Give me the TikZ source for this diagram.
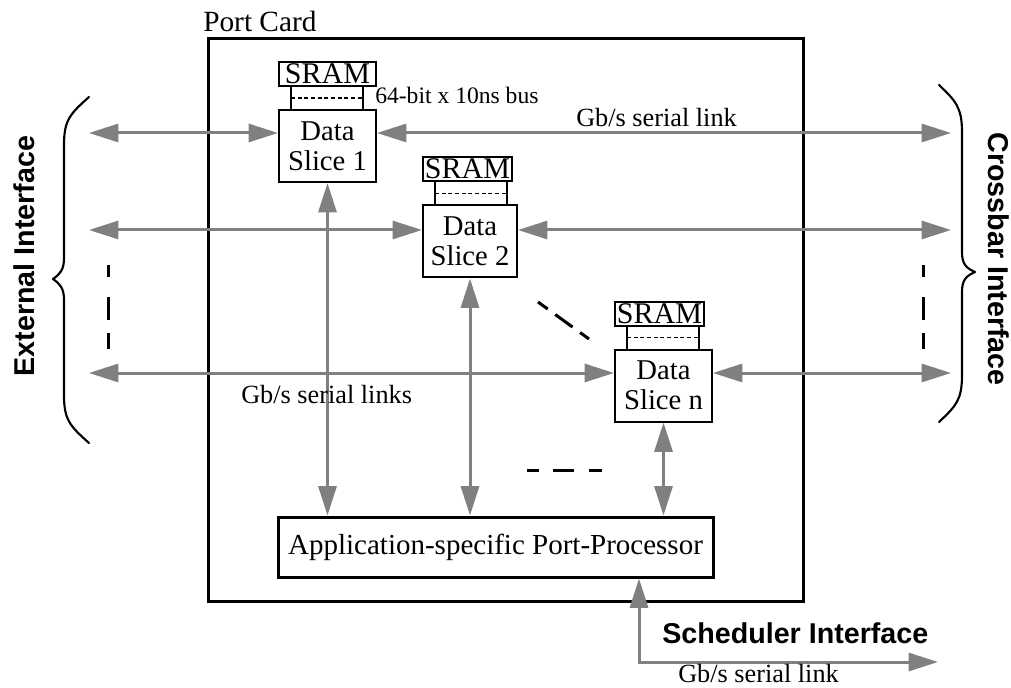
\documentclass[tikz,border=0pt]{standalone}
\usepackage{fontspec}
\setmainfont{Liberation Serif}
\newfontfamily\sansfam{Liberation Sans}
\usetikzlibrary{arrows.meta,calc}
\definecolor{agray}{RGB}{128,128,128}
\tikzset{
  tip/.tip={Triangle[length=22pt,width=13.5pt]},
  link/.style={draw=agray, line width=2.25pt, tip-tip},
  slicebox/.style={draw, line width=1.5pt, minimum width=72.75pt, minimum height=54pt, inner sep=0pt, align=center, font=\fontsize{21.5}{22.5}\selectfont},
  srambox/.style={draw, line width=1.5pt, minimum height=18pt, inner sep=0.5pt, font=\fontsize{22.5}{22}\selectfont},
  busline/.style={line width=1.5pt},
  busdash/.style={line width=0.9pt, dash pattern=on 3pt off 2pt},
  bigbox/.style={draw, line width=2.25pt, inner sep=0pt},
  lbl/.style={inner sep=0pt, anchor=base west, font=\fontsize{19.7}{21}\selectfont},
  sanslbl/.style={inner sep=0pt, anchor=base, font=\sansfam\bfseries\fontsize{21.5}{23}\selectfont},
  gapmark/.style={line width=2.25pt, dash pattern=on 9pt off 15pt on 17pt off 10pt on 12pt off 100pt},
  brace/.style={line width=1.6pt, line cap=round, line join=round}
}
\begin{document}
\begin{tikzpicture}[x=0.75pt,y=-0.75pt]
\useasboundingbox (0,0) rectangle (1011,688);

% port card
\node[bigbox, minimum width=446.25pt, minimum height=421.5pt] (card) at (505.5,320) {};
\node[lbl, font=\fontsize{22}{23}\selectfont] (cardlbl) at (203,32) {Port Card};

% data slices
\node[slicebox] (s1) at (327.5,146) {Data\\Slice 1};
\node[slicebox, minimum width=70.5pt] (s2) at (470,241.5) {Data\\Slice 2};
\node[slicebox] (sn) at (663.5,385.5) {Data\\Slice n};

\node[srambox, minimum width=72.75pt] (m1) at (327.5,74) {SRAM};
\node[srambox, minimum width=66.75pt] (m2) at (467.5,169) {SRAM};
\node[srambox, minimum width=66.75pt] (mn) at (659.5,314) {SRAM};

\foreach \m/\s in {m1/s1,m2/s2,mn/sn}{
  \draw[busline] ($(\m.south west)+(13,0)$) -- ($(\s.north west)+(13,0)$);
  \draw[busline] ($(\m.south west)+(85,0)$) -- ($(\s.north west)+(85,0)$);
  \draw[busdash] ($(\m.south west)!0.5!(\s.north west)+(13,0)$) -- ($(\m.south west)!0.5!(\s.north west)+(85,0)$);
}
\node[lbl, font=\fontsize{17.7}{19}\selectfont] (buslbl) at (375,104) {64-bit x 10ns bus};

% application processor
\node[bigbox, minimum width=326.25pt, minimum height=45pt, font=\fontsize{21.75}{23}\selectfont] (app) at (495.5,547) {Application-specific Port-Processor};

% horizontal links
\coordinate (L1) at (89,133); \coordinate (R1) at (951,133);
\coordinate (L2) at (89,230); \coordinate (R2) at (951,230);
\coordinate (L3) at (89,373); \coordinate (R3) at (951,373);
\draw[link] (L1) -- (L1 -| s1.west);
\draw[link] (s1.east |- R1) -- (R1);
\draw[link] (L2) -- (L2 -| s2.west);
\draw[link] (s2.east |- R2) -- (R2);
\draw[link] (L3) -- (L3 -| sn.west);
\draw[link] (sn.east |- R3) -- (R3);

% vertical links
\draw[link] (s1.south) -- (s1.south |- app.north);
\draw[link] (s2.south) -- (s2.south |- app.north);
\draw[link] (sn.south) -- (sn.south |- app.north);

% scheduler link
\coordinate (sc) at (639,662);
\coordinate (se) at (938,662);
\draw[link] (sc |- app.south) -- (sc) -- (se);

% labels
\node[lbl] (toplbl) at (576,127) {Gb/s serial link};
\node[lbl] (midlbl) at (241,403) {Gb/s serial links};
\node[lbl] (botlbl) at (678,682) {Gb/s serial link};
\node[sanslbl, anchor=base west] (schlbl) at (662,643) {Scheduler Interface};
\node[sanslbl, rotate=90] (extlbl) at (35,256) {External Interface};
\node[sanslbl, rotate=-90] (xbarlbl) at (988,259) {Crossbar Interface};

% ellipsis marks
\draw[gapmark] (108,265) -- (108,351);
\draw[gapmark] (923,265) -- (923,351);
\draw[line width=2.25pt, dash pattern=on 9pt off 10.5pt on 15.75pt off 11.25pt on 9.75pt off 100pt] (527,470) -- (603,470);
\draw[line width=2.25pt, dash pattern=on 9pt off 7pt on 16pt off 7pt on 9pt off 100pt] (538,302) -- (589,339);

% braces
\draw[brace] (89,97) .. controls (70,114) and (64,120) .. (64,145) -- (64,258)
  .. controls (64,270) and (60,274) .. (53,279) .. controls (60,284) and (64,288) .. (64,300)
  -- (64,395) .. controls (64,420) and (70,426) .. (89,443);
\draw[brace] (939,85) .. controls (956,101) and (962,108) .. (962,132) -- (962,252)
  .. controls (962,264) and (966,268) .. (975,272) .. controls (966,276) and (962,280) .. (962,292)
  -- (962,375) .. controls (962,400) and (956,406) .. (939,422);
\end{tikzpicture}
\end{document}
